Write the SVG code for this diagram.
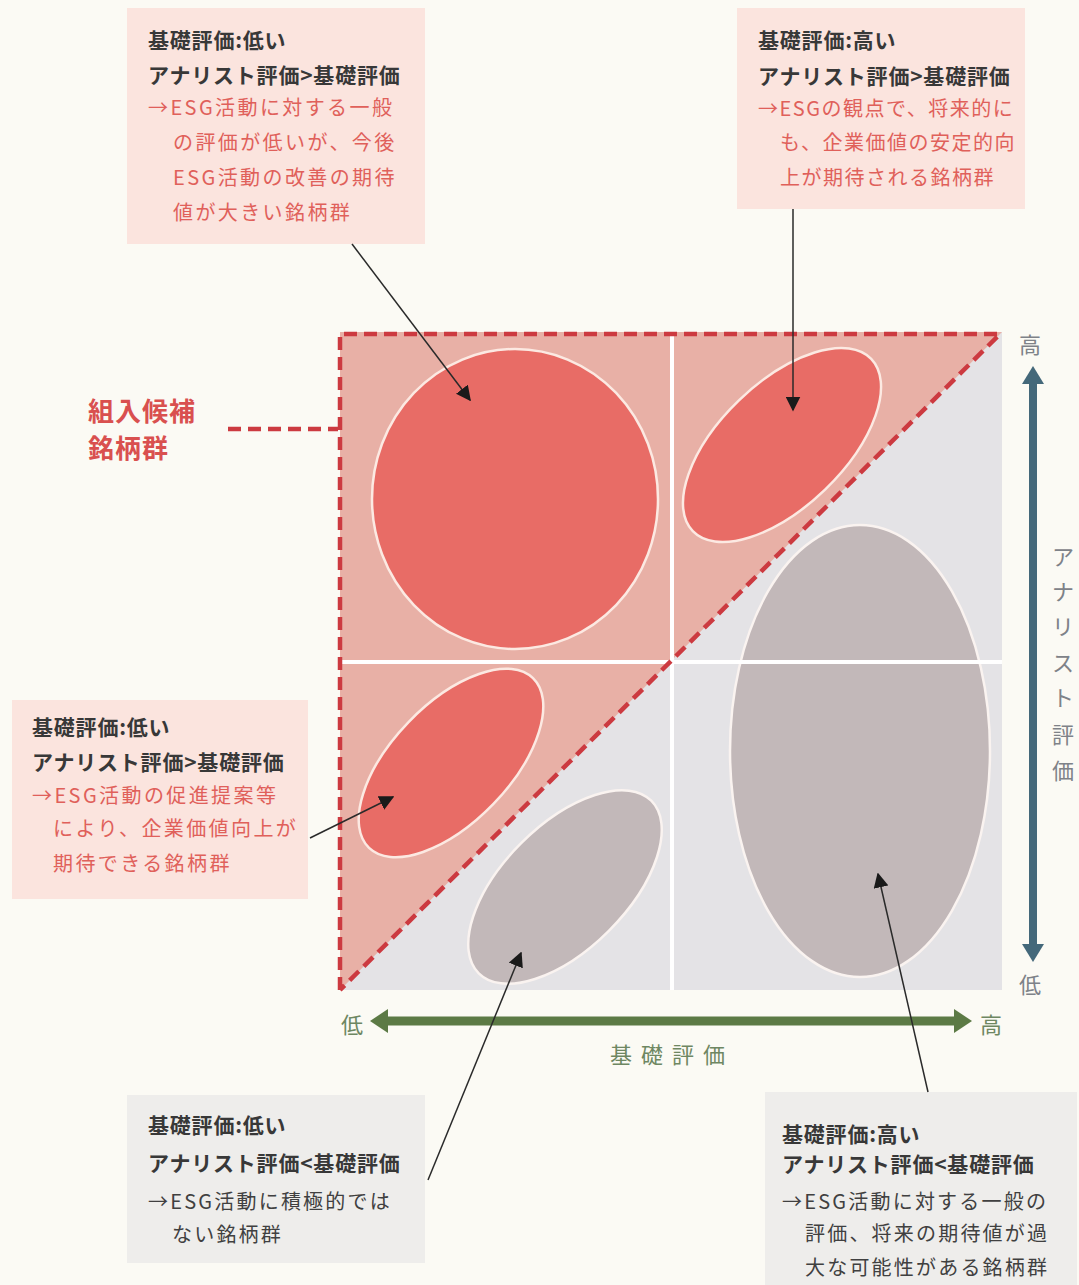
<svg xmlns="http://www.w3.org/2000/svg" width="1079" height="1285" viewBox="0 0 1079 1285">
<defs>
<marker id="ah" viewBox="0 0 10 10" refX="9" refY="5" markerWidth="15" markerHeight="15" markerUnits="userSpaceOnUse" orient="auto">
<path d="M0,0 L10,5 L0,10 z" fill="#1a1a1a"/>
</marker>
<style>
text{font-family:"Noto Sans CJK JP","Noto Sans",sans-serif;}
.h{font-size:21px;font-weight:700;fill:#383838;letter-spacing:0.8px;}
.r{font-size:20px;fill:#E0605A;letter-spacing:2.4px;}
.r2{font-size:20px;fill:#E0605A;letter-spacing:1.5px;}
.g{font-size:20px;fill:#404040;letter-spacing:2.2px;}
.pbox{fill:#FBE4DE;}
.gbox{fill:#EEEDEB;}
.redE{fill:#E86C66;stroke:#FCE9E2;stroke-width:2.5;}
.greyE{fill:#C2B8B9;stroke:#FAF3F0;stroke-width:2.5;}
.dash{fill:none;stroke:#CC3A40;stroke-width:4.5;stroke-dasharray:13 7;}
.conn{stroke:#2a2a2a;stroke-width:1.5;fill:none;marker-end:url(#ah);}
.ax{font-size:22px;fill:#7E8288;}
.axg{font-size:22px;fill:#6E8762;}
</style>
</defs>
<rect width="1079" height="1285" fill="#FBFAF4"/>

<g id="chart">
<rect x="340" y="332" width="662" height="658" fill="#E4E3E6"/>
<polygon points="340,332 1002,332 340,990" fill="#E8B0A6"/>
</g>

<g id="ellipse-tl"><ellipse cx="515" cy="499" rx="143" ry="150" class="redE"/></g>
<g id="ellipse-tr"><ellipse cx="782" cy="445" rx="124" ry="62" transform="rotate(-44 782 445)" class="redE"/></g>
<g id="ellipse-ml"><ellipse cx="451" cy="763" rx="118" ry="59" transform="rotate(-46 451 763)" class="redE"/></g>
<g id="ellipse-bl"><ellipse cx="565" cy="887" rx="122" ry="62" transform="rotate(-45 565 887)" class="greyE"/></g>
<g id="ellipse-br"><ellipse cx="860" cy="751" rx="130" ry="226" class="greyE"/></g>

<g id="dividers">
<line x1="672" y1="332" x2="672" y2="990" stroke="#FFFFFF" stroke-width="4"/>
<line x1="340" y1="662" x2="1002" y2="662" stroke="#FFFFFF" stroke-width="4"/>
</g>

<g id="candidate-zone">
<polyline points="340,990 340,334 1000,334 340,990" class="dash" stroke-linejoin="miter"/>
<line x1="228" y1="429" x2="338" y2="429" class="dash"/>
<text x="88" y="421" font-size="26" font-weight="700" fill="#D9504F" letter-spacing="1">組入候補</text>
<text x="88" y="458" font-size="26" font-weight="700" fill="#D9504F" letter-spacing="1">銘柄群</text>
</g>

<g id="axis-y">
<line x1="1033" y1="382" x2="1033" y2="946" stroke="#44687A" stroke-width="8"/>
<polygon points="1033,366 1044,384 1022,384" fill="#44687A"/>
<polygon points="1033,962 1044,944 1022,944" fill="#44687A"/>
<text x="1030" y="353" class="ax" text-anchor="middle">高</text>
<text x="1030" y="993" class="ax" text-anchor="middle">低</text>
<text x="1063" y="565" class="ax" text-anchor="middle">ア</text>
<text x="1063" y="600" class="ax" text-anchor="middle">ナ</text>
<text x="1063" y="635" class="ax" text-anchor="middle">リ</text>
<text x="1063" y="671" class="ax" text-anchor="middle">ス</text>
<text x="1063" y="706" class="ax" text-anchor="middle">ト</text>
<text x="1063" y="743" class="ax" text-anchor="middle">評</text>
<text x="1063" y="779" class="ax" text-anchor="middle">価</text>
</g>

<g id="axis-x">
<line x1="385" y1="1021" x2="958" y2="1021" stroke="#5C7A45" stroke-width="9"/>
<polygon points="370,1021 388,1009 388,1033" fill="#5C7A45"/>
<polygon points="972,1021 954,1009 954,1033" fill="#5C7A45"/>
<text x="352" y="1033" class="axg" text-anchor="middle">低</text>
<text x="991" y="1033" class="axg" text-anchor="middle">高</text>
<text x="672" y="1063" class="axg" text-anchor="middle" letter-spacing="9">基礎評価</text>
</g>

<g id="box-tl">
<rect x="127" y="8" width="298" height="236" class="pbox"/>
<text x="148" y="48" class="h">基礎評価:低い</text>
<text x="148" y="83" class="h">アナリスト評価&gt;基礎評価</text>
<text x="148" y="115" class="r">→ESG活動に対する一般</text>
<text x="173" y="150" class="r">の評価が低いが、今後</text>
<text x="173" y="185" class="r">ESG活動の改善の期待</text>
<text x="173" y="220" class="r">値が大きい銘柄群</text>
</g>

<g id="box-tr">
<rect x="737" y="8" width="288" height="201" class="pbox"/>
<text x="758" y="48" class="h">基礎評価:高い</text>
<text x="758" y="84" class="h">アナリスト評価&gt;基礎評価</text>
<text x="758" y="116" class="r2">→ESGの観点で、将来的に</text>
<text x="780" y="150" class="r2">も、企業価値の安定的向</text>
<text x="780" y="185" class="r2">上が期待される銘柄群</text>
</g>

<g id="box-ml">
<rect x="12" y="700" width="296" height="199" class="pbox"/>
<text x="32" y="735" class="h">基礎評価:低い</text>
<text x="32" y="770" class="h">アナリスト評価&gt;基礎評価</text>
<text x="32" y="803" class="r">→ESG活動の促進提案等</text>
<text x="53" y="836" class="r">により、企業価値向上が</text>
<text x="53" y="871" class="r">期待できる銘柄群</text>
</g>

<g id="box-bl">
<rect x="127" y="1095" width="298" height="168" class="gbox"/>
<text x="148" y="1133" class="h">基礎評価:低い</text>
<text x="148" y="1171" class="h">アナリスト評価&lt;基礎評価</text>
<text x="148" y="1209" class="g">→ESG活動に積極的では</text>
<text x="172" y="1242" class="g">ない銘柄群</text>
</g>

<g id="box-br">
<rect x="765" y="1092" width="312" height="193" class="gbox"/>
<text x="782" y="1142" class="h">基礎評価:高い</text>
<text x="782" y="1172" class="h">アナリスト評価&lt;基礎評価</text>
<text x="782" y="1209" class="g">→ESG活動に対する一般の</text>
<text x="805" y="1241" class="g">評価、将来の期待値が過</text>
<text x="805" y="1275" class="g">大な可能性がある銘柄群</text>
</g>

<g id="connectors">
<line x1="352" y1="244" x2="470" y2="400" class="conn"/>
<line x1="793" y1="209" x2="793" y2="410" class="conn"/>
<line x1="310" y1="838" x2="393" y2="797" class="conn"/>
<line x1="428" y1="1180" x2="521" y2="953" class="conn"/>
<line x1="928" y1="1092" x2="878" y2="874" class="conn"/>
</g>
</svg>
